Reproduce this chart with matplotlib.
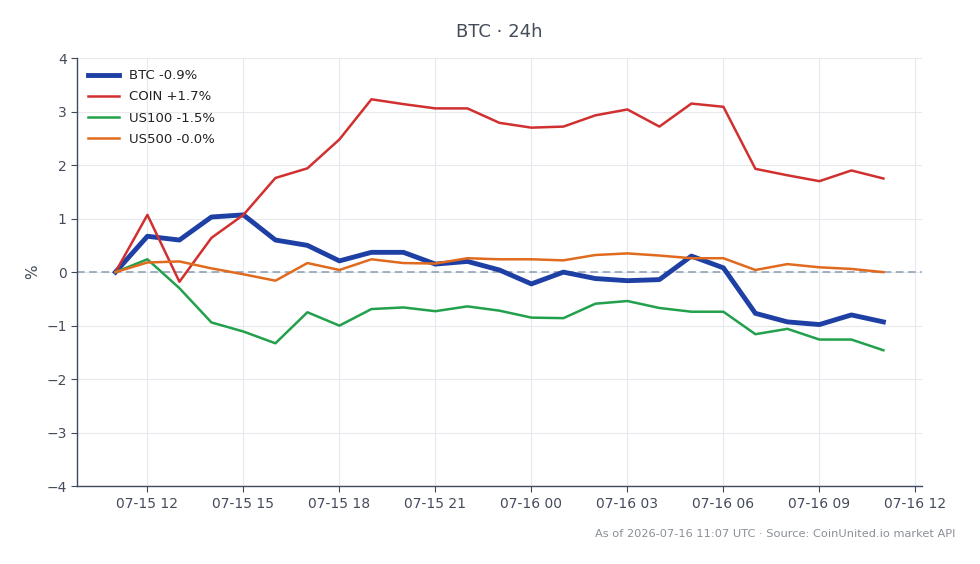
import matplotlib
matplotlib.use("Agg")
import matplotlib.pyplot as plt
import matplotlib.dates as mdates
import pandas as pd

# hourly points, 07-15 11:00 -> 07-16 11:00 UTC
times = pd.date_range("2026-07-15 11:00", "2026-07-16 11:00", freq="h")

btc = [0.0, 0.67, 0.60, 1.03, 1.07, 0.60, 0.50, 0.21, 0.37, 0.37, 0.15, 0.20, 0.04,
       -0.22, 0.0, -0.12, -0.16, -0.14, 0.30, 0.08, -0.77, -0.93, -0.98, -0.80, -0.93]
coin = [0.0, 1.07, -0.18, 0.64, 1.07, 1.76, 1.94, 2.48, 3.23, 3.14, 3.06, 3.06, 2.79,
        2.70, 2.72, 2.93, 3.04, 2.72, 3.15, 3.09, 1.93, 1.81, 1.70, 1.90, 1.75]
us100 = [0.0, 0.24, -0.30, -0.94, -1.11, -1.33, -0.75, -1.00, -0.69, -0.66, -0.73, -0.64, -0.72,
         -0.85, -0.86, -0.59, -0.54, -0.67, -0.74, -0.74, -1.16, -1.06, -1.26, -1.26, -1.46]
us500 = [0.0, 0.18, 0.20, 0.07, -0.04, -0.16, 0.17, 0.04, 0.24, 0.17, 0.16, 0.26, 0.24,
         0.24, 0.22, 0.32, 0.35, 0.31, 0.26, 0.26, 0.04, 0.15, 0.09, 0.06, -0.0]

series = [
    ("BTC -0.9%", btc, "#1e3fa3", 3.5),
    ("COIN +1.7%", coin, "#d03030", 1.8),
    ("US100 -1.5%", us100, "#22a04b", 1.8),
    ("US500 -0.0%", us500, "#e06a1e", 1.8),
]

axis_col = "#3d4a5c"
text_col = "#444c5a"

fig = plt.figure(figsize=(9.8, 5.64), dpi=100)
ax = fig.add_axes([0.0786, 0.138, 0.862, 0.759])

ax.axhline(0, color="#8a9bb0", linestyle="--", linewidth=1.1, dashes=(5, 3), zorder=1)
for label, vals, col, lw in series:
    ax.plot(times, vals, color=col, linewidth=lw, label=label, zorder=3)

ax.set_ylim(-4, 4)
ax.set_yticks(range(-4, 5))
ax.set_yticklabels([str(v).replace("-", "\u2212") for v in range(-4, 5)])
ax.xaxis.set_major_locator(mdates.HourLocator(byhour=range(0, 24, 3)))
ax.xaxis.set_major_formatter(mdates.DateFormatter("%m-%d %H"))

ax.grid(True, color="#e6e9ee", linewidth=0.8)
ax.set_axisbelow(True)
for s in ["top", "right"]:
    ax.spines[s].set_visible(False)
for s in ["left", "bottom"]:
    ax.spines[s].set_color(axis_col)
    ax.spines[s].set_linewidth(1.0)
ax.tick_params(colors=axis_col, labelcolor=text_col, labelsize=10, length=4)

ax.set_ylabel("%", color=text_col, fontsize=11)
ax.set_title("BTC \u00b7 24h", color=text_col, fontsize=13, pad=15)

leg = ax.legend(loc="upper left", frameon=False, fontsize=9.5, handlelength=2.3,
                labelspacing=0.62, borderaxespad=0.45)
for t in leg.get_texts():
    t.set_color("#222222")

fig.text(0.975, 0.053, "As of 2026-07-16 11:07 UTC \u00b7 Source: CoinUnited.io market API",
         ha="right", va="center", fontsize=8.2, color="#8a8f98")

fig.savefig("out.png", dpi=100)
